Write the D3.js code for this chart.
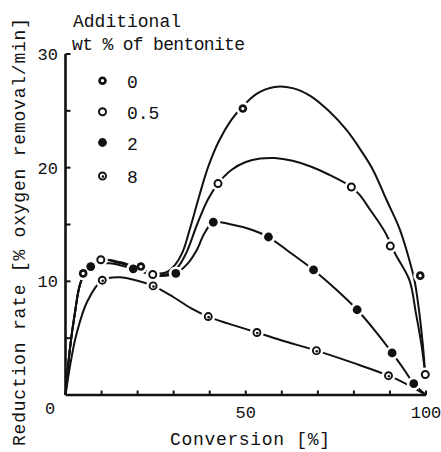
<!DOCTYPE html>
<html><head><meta charset="utf-8">
<script src="https://cdn.jsdelivr.net/npm/d3@7"></script>
<style>body{margin:0;background:#fff}svg text{font-family:"Liberation Mono","DejaVu Sans Mono",monospace;fill:#111}</style>
</head><body>
<svg id="c" width="441" height="452"></svg>
<script>
// ---- data ----
const seriesNames = ["0", "0.5", "2", "8"];
const xTicks = [10, 20, 30, 40, 50, 60, 70, 80, 90, 100];
const yTicks = [5, 10, 15, 20, 25, 30];
const xTickLabels = [50, 100];
const yTickLabels = [10, 20, 30];

// measured points (conversion %, rate)
const pts0  = [[4.9,10.7],[20.9,11.3],[49.2,25.2],[98.4,10.5]];
const pts05 = [[9.8,11.9],[24.2,10.6],[42.3,18.6],[79.3,18.3],[90.1,13.1],[99.8,1.8]];
const pts2  = [[7.0,11.3],[18.8,11.1],[30.6,10.7],[41.0,15.2],[56.3,13.9],[68.8,11.0],[80.9,7.5],[90.6,3.7],[96.6,1.0]];
const pts8  = [[10.2,10.1],[24.3,9.6],[39.6,6.9],[53.1,5.5],[69.6,3.9],[89.6,1.7]];

// hand-drawn fitted curves
const curve0  = [[0,0],[1.2,4],[2.6,7.2],[4.2,9.9],[6.5,11.3],[10,11.9],[15,11.7],[20,11.2],[25,10.7],[28,10.8],[30.5,11.5],[32.5,12.6],[34.5,14.6],[37,17.4],[39.5,20],[42.5,22.3],[46,24.2],[49.2,25.4],[53,26.5],[58,27.1],[63,27.0],[68,26.3],[73,25],[78,23.3],[82,21.5],[85.3,19.8],[89,17.2],[92.7,14.6],[95,12.3],[96.8,10.1],[98,7.6],[99.1,4.5],[99.8,1.8]];
const curve05 = [[0,0],[1.2,4],[2.6,7.2],[4.2,9.9],[6.5,11.3],[9.8,11.9],[15,11.6],[20,11.1],[24.2,10.6],[28,10.6],[31,11.2],[33.5,12.5],[36.5,15],[39.5,17.2],[42.3,18.6],[46,19.8],[50,20.5],[54,20.8],[58,20.85],[63,20.6],[68,20.1],[73,19.4],[79.3,18.3],[81.6,17.6],[84.5,16.3],[88.5,14.4],[91.5,12.4],[95.4,10.1],[97.2,7.2],[98.7,4.5],[99.8,1.8]];
const curve2  = [[0,0],[1.2,4],[2.6,7.2],[4.2,9.9],[7,11.3],[12,11.6],[18.8,11.1],[25,10.5],[30.6,10.7],[34,11.6],[36.5,12.8],[38.5,14.2],[41,15.2],[46,15.0],[51,14.6],[56.3,13.9],[62,12.6],[68.8,11.0],[75,9.3],[80.9,7.5],[86,5.6],[90.6,3.7],[94,2.2],[96.6,1.0],[100,0]];
const curve8  = [[0,0],[1.5,3],[3,5.3],[6,8.2],[10.2,10.1],[15,10.35],[20,10.05],[24.3,9.6],[30,8.6],[35,7.6],[39.6,6.9],[45,6.3],[53.1,5.5],[60,4.8],[69.6,3.9],[80,2.8],[89.6,1.7],[95,0.9],[100,0]];

const allPts = [pts0, pts05, pts2, pts8];
const allCurves = [curve0, curve05, curve2, curve8];

// ---- drawing ----
const svg = d3.select("#c");
const x = d3.scaleLinear().domain([0, 100]).range([65.5, 426]);
const y = d3.scaleLinear().domain([0, 30]).range([395, 54]);

// curves
const line = d3.line().x(d => x(d[0])).y(d => y(d[1])).curve(d3.curveCatmullRom.alpha(0.5));
svg.append("g").selectAll("path").data(allCurves).join("path")
  .attr("d", line).attr("fill", "none").attr("stroke", "#111").attr("stroke-width", 2);

// marker drawing
function marker(g, kind, cx, cy) {
  if (kind === 0) {
    g.append("circle").attr("cx", cx).attr("cy", cy).attr("r", 4.3).attr("fill", "#111");
    g.append("circle").attr("cx", cx).attr("cy", cy).attr("r", 1.6).attr("fill", "#fff");
  } else if (kind === 1) {
    g.append("circle").attr("cx", cx).attr("cy", cy).attr("r", 3.5).attr("fill", "#fff").attr("stroke", "#111").attr("stroke-width", 2);
  } else if (kind === 2) {
    g.append("circle").attr("cx", cx).attr("cy", cy).attr("r", 4.4).attr("fill", "#111");
  } else {
    g.append("circle").attr("cx", cx).attr("cy", cy).attr("r", 3.5).attr("fill", "#fff").attr("stroke", "#111").attr("stroke-width", 1.9);
    g.append("circle").attr("cx", cx + 0.4).attr("cy", cy + 0.6).attr("r", 1.3).attr("fill", "#111");
  }
}

// halos (gaps in lines around markers)
const halo = svg.append("g");
allPts.forEach(ps => ps.forEach(p => {
  halo.append("circle").attr("cx", x(p[0])).attr("cy", y(p[1])).attr("r", 7).attr("fill", "#fff");
}));
const mk = svg.append("g");
allPts.forEach((ps, i) => ps.forEach(p => marker(mk, i, x(p[0]), y(p[1]))));

// axes
const ax = svg.append("g").attr("stroke", "#111").attr("fill", "none");
ax.append("line").attr("x1", x(0)).attr("x2", x(100)).attr("y1", y(0)).attr("y2", y(0)).attr("stroke-width", 2.6);
ax.append("line").attr("x1", x(0)).attr("x2", x(0)).attr("y1", y(0)).attr("y2", y(30)).attr("stroke-width", 2.6);
ax.selectAll(".xt").data(xTicks).join("line")
  .attr("x1", d => x(d)).attr("x2", d => x(d)).attr("y1", y(0)).attr("y2", y(0) - 4.5).attr("stroke-width", 2);
ax.selectAll(".yt").data(yTicks).join("line")
  .attr("x1", x(0)).attr("x2", x(0) + 5).attr("y1", d => y(d)).attr("y2", d => y(d)).attr("stroke-width", 2);

// tick labels
svg.selectAll(".xl").data(xTickLabels).join("text")
  .attr("x", d => x(d)).attr("y", 418).attr("text-anchor", "middle").attr("font-size", 17).text(d => d);
svg.selectAll(".yl").data(yTickLabels).join("text")
  .attr("x", 58).attr("y", d => y(d) + 6).attr("text-anchor", "end").attr("font-size", 17).text(d => d);
svg.append("text").attr("x", 50).attr("y", 414).attr("text-anchor", "middle").attr("font-size", 17).text("0");

// axis titles
svg.append("text").attr("x", 250).attr("y", 445).attr("text-anchor", "middle").attr("font-size", 18)
  .attr("textLength", 160).attr("lengthAdjust", "spacing").text("Conversion [%]");
svg.append("text").attr("transform", "translate(25,232) rotate(-90)").attr("text-anchor", "middle").attr("font-size", 18)
  .attr("textLength", 428).attr("lengthAdjust", "spacing").text("Reduction rate [% oxygen removal/min]");

// legend
svg.append("text").attr("x", 73).attr("y", 27).attr("font-size", 18)
  .attr("textLength", 108).attr("lengthAdjust", "spacing").text("Additional");
svg.append("text").attr("x", 72).attr("y", 50).attr("font-size", 18)
  .attr("textLength", 173).attr("lengthAdjust", "spacing").text("wt % of bentonite");
const legY = [80.7, 111.7, 142.5, 176];
seriesNames.forEach((s, i) => {
  marker(svg.append("g"), i, 102.5, legY[i]);
  svg.append("text").attr("x", 127).attr("y", legY[i] + 7).attr("font-size", 18).text(s);
});
</script>
</body></html>
